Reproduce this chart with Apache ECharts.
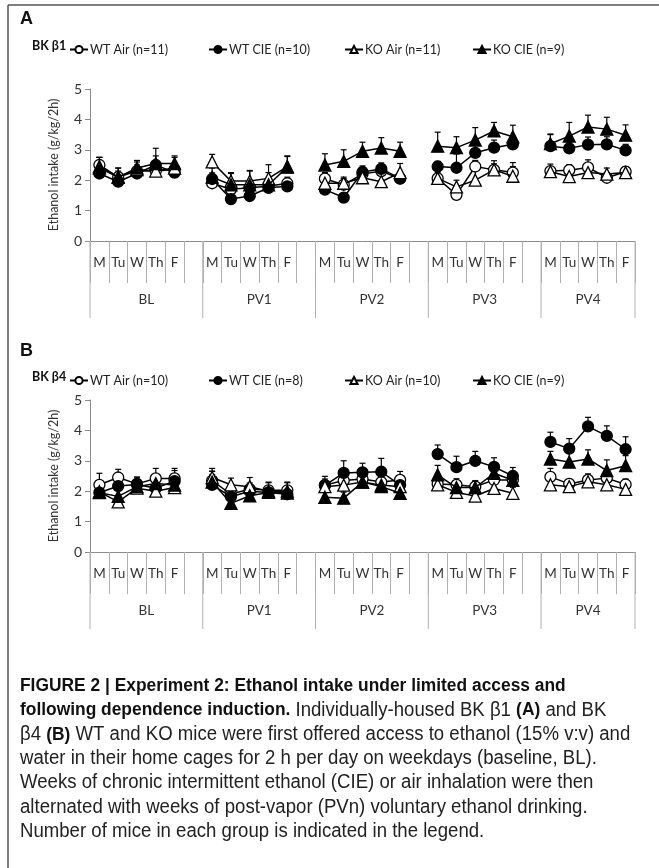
<!DOCTYPE html>
<html><head><meta charset="utf-8">
<script src="https://cdn.jsdelivr.net/npm/echarts@6/dist/echarts.min.js"></script>
<style>html,body{margin:0;padding:0;background:#fff}#c{width:659px;height:868px}</style>
</head><body><div id="c"></div><script>
// ---------- data ----------
const days = ['M','Tu','W','Th','F'];
const groups = ['BL','PV1','PV2','PV3','PV4'];
const yTicks = [0,1,2,3,4,5];

// Panel A (BK β1) — values per group (BL, PV1..PV4), each Mon..Fri
const A_names = ['WT Air (n=11)','WT CIE (n=10)','KO Air (n=11)','KO CIE (n=9)'];
const A_wtAir = [[2.5,2.1,2.3,2.3,2.35],[1.9,1.7,1.75,1.8,1.9],[2.05,1.85,2.2,2.3,2.05],[2.06,1.52,2.45,2.34,2.25],[2.3,2.33,2.42,2.08,2.28]];
const A_wtAirErr = [[.25,.2,.2,.2,.2],[.15,.15,.15,.15,.2],[.2,.2,.2,.2,.15],[.2,.2,.2,.2,.2],[.15,.18,.25,.15,.15]];
const A_wtCie = [[2.22,1.95,2.22,2.5,2.25],[2.04,1.38,1.48,1.75,1.8],[1.69,1.43,2.27,2.37,2.06],[2.45,2.41,2.9,3.07,3.18],[3.12,3.05,3.17,3.18,2.98]];
const A_wtCieErr = [[.2,.15,.2,.3,.15],[.2,.15,.15,.15,.15],[.2,.15,.2,.2,.15],[.17,.45,.3,.25,.2],[.4,.2,.25,.25,.2]];
const A_koAir = [[2.45,2.1,2.35,2.3,2.4],[2.6,1.97,1.97,2.06,2.45],[1.9,1.9,2.08,1.95,2.25],[2.06,1.78,2.0,2.34,2.13],[2.28,2.12,2.25,2.2,2.25]];
const A_koAirErr = [[.3,.3,.25,.25,.35],[.25,.25,.35,.45,.35],[.3,.2,.3,.25,.3],[.5,.22,.3,.3,.45],[.25,.2,.25,.2,.2]];
const A_koCie = [[2.4,2.1,2.4,2.55,2.55],[2.1,1.85,1.85,1.85,2.43],[2.5,2.62,2.95,3.06,2.95],[3.12,3.07,3.32,3.62,3.43],[3.2,3.45,3.75,3.68,3.48]];
const A_koCieErr = [[.35,.3,.25,.5,.25],[.3,.4,.45,.4,.35],[.37,.38,.3,.34,.3],[.46,.36,.41,.28,.38],[.3,.45,.39,.39,.34]];

// Panel B (BK β4)
const B_names = ['WT Air (n=10)','WT CIE (n=8)','KO Air (n=10)','KO CIE (n=9)'];
const B_wtAir = [[2.21,2.45,2.24,2.42,2.42],[2.35,1.9,2.07,2.03,2.03],[2.2,2.35,2.4,2.3,2.37],[2.24,2.21,2.15,2.37,2.37],[2.47,2.24,2.37,2.43,2.22]];
const B_wtAirErr = [[.38,.27,.2,.33,.33],[.2,.2,.2,.25,.25],[.2,.3,.25,.3,.28],[.2,.2,.2,.2,.2],[.28,.15,.2,.2,.18]];
const B_wtCie = [[1.95,2.17,2.22,2.1,2.33],[2.21,1.82,2.0,1.96,1.9],[2.19,2.6,2.62,2.64,2.2],[3.22,2.79,3.0,2.8,2.5],[3.62,3.4,4.13,3.82,3.38]];
const B_wtCieErr = [[.15,.2,.25,.2,.35],[.45,.2,.2,.2,.2],[.3,.4,.3,.44,.3],[.3,.36,.31,.3,.28],[.32,.33,.3,.33,.41]];
const B_koAir = [[1.98,1.65,2.1,2.0,2.12],[2.45,2.21,2.15,2.0,2.0],[2.15,2.2,2.3,2.2,2.15],[2.21,1.96,1.84,2.09,1.93],[2.21,2.15,2.31,2.21,2.06]];
const B_koAirErr = [[.2,.2,.2,.2,.2],[.3,.22,.3,.3,.3],[.2,.2,.2,.2,.2],[.2,.2,.2,.2,.2],[.2,.15,.15,.15,.15]];
const B_koCie = [[1.95,1.83,2.15,2.25,2.2],[2.3,1.6,1.85,1.96,1.94],[1.8,1.77,2.3,2.15,1.93],[2.54,2.12,2.12,2.59,2.36],[3.06,2.96,3.06,2.68,2.84]];
const B_koCieErr = [[.2,.2,.2,.25,.2],[.35,.2,.2,.2,.2],[.2,.2,.2,.2,.2],[.31,.2,.2,.25,.2],[.25,.4,.3,.35,.33]];

// ---------- build ----------
const cats = [];
const groupSpans = [];
groups.forEach((g, gi) => {
  const start = cats.length;
  days.forEach(d => cats.push(g + '|' + d));
  if (gi < groups.length - 1) cats.push(g + '|');
  groupSpans.push([start, cats.length - 1, 0]);
});
function flat(arr) {
  const out = [];
  arr.forEach((grp, gi) => { grp.forEach(v => out.push(v)); if (gi < arr.length - 1) out.push(null); });
  return out;
}
function errData(vals, errs) {
  const out = [];
  let idx = 0;
  vals.forEach((grp, gi) => {
    grp.forEach((v, di) => { out.push([idx, v, errs[gi][di]]); idx++; });
    if (gi < vals.length - 1) idx++;
  });
  return out;
}
const FONT = 'Lato';
const styles = [
  {symbol:'circle', fill:'#fff', size:11},
  {symbol:'circle', fill:'#000', size:11},
  {symbol:'triangle', fill:'#fff', size:12},
  {symbol:'triangle', fill:'#000', size:12}
];
const panels = [
  {names:A_names, vals:[A_wtAir,A_wtCie,A_koAir,A_koCie], errs:[A_wtAirErr,A_wtCieErr,A_koAirErr,A_koCieErr], top:89, letter:'A', letterY:10, bk:'BK β1', legendY:38},
  {names:B_names, vals:[B_wtAir,B_wtCie,B_koAir,B_koCie], errs:[B_wtAirErr,B_wtCieErr,B_koAirErr,B_koCieErr], top:400, letter:'B', letterY:342, bk:'BK β4', legendY:369}
];
const gridH = 152;
const grids = [], xAxes = [], yAxes = [], series = [], legends = [], graphics = [];
const legendX = [64, 203, 339, 467];

panels.forEach((P, p) => {
  grids.push({left:90, width:545, top:P.top, height:gridH});
  xAxes.push({
    type:'category', gridIndex:p, data:cats, boundaryGap:true,
    axisLine:{lineStyle:{color:'#8c8c8c', width:1}},
    axisTick:{show:true, interval:0, length:42, lineStyle:{color:'#b0b0b0'}},
    axisLabel:{interval:0, margin:15, fontFamily:FONT, fontSize:13.5, color:'#333', formatter:v => v.split('|')[1] || ''},
    splitLine:{show:false}
  });
  yAxes.push({
    type:'value', gridIndex:p, min:0, max:5, interval:1,
    name:'Ethanol intake (g/kg/2h)', nameLocation:'middle', nameGap:30,
    nameTextStyle:{fontFamily:FONT, fontSize:12.5, color:'#333'},
    axisLine:{show:true, lineStyle:{color:'#8c8c8c'}},
    axisTick:{show:true, length:5, lineStyle:{color:'#8c8c8c'}},
    axisLabel:{fontFamily:FONT, fontSize:14, color:'#333', margin:8},
    splitLine:{show:false}
  });
  // group separators and labels
  series.push({
    type:'custom', xAxisIndex:p, yAxisIndex:p, silent:true, clip:false, z:1,
    encode:{x:[0,1], y:2},
    data:groupSpans,
    renderItem:(params, api) => {
      const s = api.value(0), e = api.value(1);
      const bw = api.size([1,0])[0];
      const p0 = api.coord([s, 0]), p1 = api.coord([e, 0]);
      const xl = p0[0] - bw/2, xr = p1[0] + bw/2, y = p0[1];
      const ch = [
        {type:'line', shape:{x1:xl, y1:y, x2:xl, y2:y+77}, style:{stroke:'#b0b0b0', lineWidth:1}},
        {type:'text', style:{text:groups[params.dataIndex], x:(xl+xr)/2, y:y+59, align:'center', verticalAlign:'middle', font:'13.5px ' + FONT, fill:'#333'}}
      ];
      if (params.dataIndex === groups.length - 1) ch.push({type:'line', shape:{x1:xr, y1:y, x2:xr, y2:y+77}, style:{stroke:'#b0b0b0', lineWidth:1}});
      return {type:'group', children:ch};
    }
  });
  P.names.forEach((nm, si) => {
    const st = styles[si];
    series.push({
      type:'custom', name:'err'+p+si, xAxisIndex:p, yAxisIndex:p, silent:true, z:2,
      encode:{x:0, y:1},
      data:errData(P.vals[si], P.errs[si]),
      renderItem:(params, api) => {
        const x = api.value(0), v = api.value(1), e = api.value(2);
        const a = api.coord([x, v]), b = api.coord([x, v + e]);
        return {type:'group', children:[
          {type:'line', shape:{x1:a[0], y1:a[1], x2:b[0], y2:b[1]}, style:{stroke:'#000', lineWidth:1.2}},
          {type:'line', shape:{x1:b[0]-3, y1:b[1], x2:b[0]+3, y2:b[1]}, style:{stroke:'#000', lineWidth:1.2}}
        ]};
      }
    });
    series.push({
      type:'line', name:nm, xAxisIndex:p, yAxisIndex:p, data:flat(P.vals[si]),
      symbol:st.symbol, symbolSize:st.size, showSymbol:true, connectNulls:false, animation:false,
      lineStyle:{color:'#000', width:1.5},
      itemStyle:{color:st.fill, borderColor:'#000', borderWidth:1.3},
      emphasis:{disabled:true}, z:3 + si
    });
    legends.push({
      data:[nm], left:legendX[si], top:P.legendY, itemWidth:18, itemHeight:9, itemGap:2,
      selectedMode:false,
      textStyle:{fontFamily:FONT, fontSize:12.5, color:'#222', padding:[0,0,0,-3]}
    });
  });
  graphics.push({type:'text', left:20, top:P.letterY, style:{text:P.letter, font:'bold 18px Liberation Sans', fill:'#111'}});
  graphics.push({type:'text', left:32, top:P.legendY + 1, style:{text:P.bk, font:'bold 12.5px ' + FONT, fill:'#111'}});
});

// frame
graphics.push({type:'line', shape:{x1:8, y1:5, x2:8, y2:868}, style:{stroke:'#555', lineWidth:1.5}});
graphics.push({type:'line', shape:{x1:8, y1:5, x2:659, y2:5}, style:{stroke:'#555', lineWidth:1.5}});

// caption
const capLines = [
  '{b|FIGURE 2 | Experiment 2: Ethanol intake under limited access and}',
  '{b|following dependence induction.} Individually-housed BK β1 {b|(A)} and BK',
  'β4 {b|(B)} WT and KO mice were first offered access to ethanol (15% v:v) and',
  'water in their home cages for 2 h per day on weekdays (baseline, BL).',
  'Weeks of chronic intermittent ethanol (CIE) or air inhalation were then',
  'alternated with weeks of post-vapor (PVn) voluntary ethanol drinking.',
  'Number of mice in each group is indicated in the legend.'
];
capLines.forEach((t, i) => {
  graphics.push({type:'text', x:20, y:676 + i*24.2, scaleX:0.93, style:{
    text:t, font:'20px "Liberation Sans"', fill:'#222',
    rich:{b:{fontWeight:'bold', fontFamily:'Liberation Sans', fontSize:18.7, fill:'#111'}}
  }});
});

const chart = echarts.init(document.getElementById('c'), null, {renderer:'canvas'});
chart.setOption({
  animation:false,
  backgroundColor:'#fff',
  grid:grids, xAxis:xAxes, yAxis:yAxes, series:series, legend:legends, graphic:graphics
});
</script></body></html>
